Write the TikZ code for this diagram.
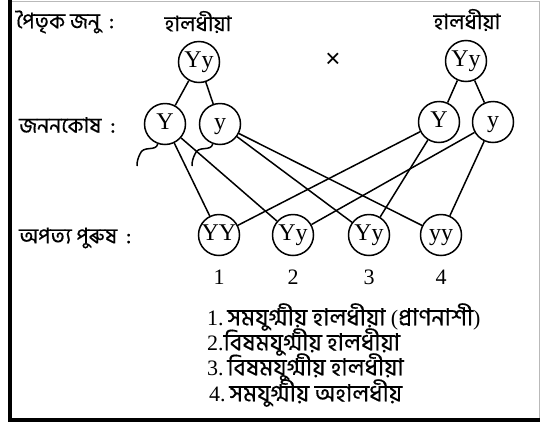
\documentclass[tikz,border=0pt]{standalone}
\usepackage{fontspec}
\setmainfont{Liberation Serif}
\newfontfamily\bn[Script=Bengali,FakeBold=0.4]{Hind Siliguri}
\newfontfamily\crossfont{Liberation Sans}
\newcommand\bnleg{\bn\fontsize{23.5}{23.5}\selectfont}
\begin{document}
\begin{tikzpicture}[x=1pt,y=-1pt,
  gene/.style={circle,draw,line width=1.5pt,minimum size=41pt,inner sep=0pt,
    text height=15pt,text depth=4pt,font=\fontsize{24}{24}\selectfont},
  link/.style={line width=1.5pt},
  lab/.style={anchor=west,inner sep=0pt,font=\bn\fontsize{21.5}{21.5}\selectfont},
  num/.style={inner sep=0pt,font=\fontsize{22}{22}\selectfont},
  legend/.style={anchor=west,inner sep=0pt,font=\fontsize{22}{22}\selectfont}]
\useasboundingbox (0,0) rectangle (540,426);
% frame
\draw[gray!55,line width=1pt] (10,1) -- (539,1) -- (539,420);
\draw[line width=3.5pt] (10,0) -- (10,420) -- (540,420);

% row labels
\node[lab] (lp) at (16,22) {পৈতৃক জনু\hspace{9pt}:};
\node[lab] (lg) at (19,125) {জননকোষ\hspace{9pt}:};
\node[lab] (lo) at (19,238) {অপত্য পুৰুষ\hspace{9pt}:};
\node[lab,anchor=center] (tl) at (198,22) {হালধীয়া};
\node[lab,anchor=center] (tr) at (467,20) {হালধীয়া};
\node[inner sep=0pt,font=\crossfont\fontsize{26}{26}\selectfont] (x) at (333,60) {×};

% parents
\node[gene] (p1) at (199,62) {Yy};
\node[gene] (p2) at (466,61) {Yy};
% gametes
\node[gene] (g1) at (165,124) {Y};
\node[gene] (g2) at (220,124) {y};
\node[gene] (g3) at (439,122) {Y};
\node[gene] (g4) at (493,122) {y};
% offspring
\node[gene] (o1) at (219,235) {YY};
\node[gene] (o2) at (293,235) {Yy};
\node[gene] (o3) at (369,235) {Yy};
\node[gene] (o4) at (441,235) {yy};
\node[num] (n1) at (219,277) {1};
\node[num] (n2) at (293,277) {2};
\node[num] (n3) at (369,277) {3};
\node[num] (n4) at (441,277) {4};

% parent to gametes
\draw[link] (p1) -- (g1);
\draw[link] (p1) -- (g2);
\draw[link] (p2) -- (g3);
\draw[link] (p2) -- (g4);
% gametes to offspring
\draw[link] (g1) -- (o1);
\draw[link] (g1) -- (o2);
\draw[link] (g2) -- (o3);
\draw[link] (g2) -- (o4);
\draw[link] (g3) -- (o1);
\draw[link] (g3) -- (o3);
\draw[link] (g4) -- (o2);
\draw[link] (g4) -- (o4);

% tails under the left gametes
\draw[link] (g1.-110) .. controls (156,152) and (143,145) .. (140,154)
  .. controls (138,158) and (137,161) .. (137,166);
\draw[link] (g2.-110) .. controls (211,152) and (198,145) .. (195,154)
  .. controls (193,158) and (192,161) .. (192,166);

% legend
\node[legend] (l1) at (207,317) {1.\,{\bnleg সমযুগ্মীয় হালধীয়া} ({\bnleg প্ৰাণনাশী})};
\node[legend] (l2) at (207,342) {2.{\bnleg বিষমযুগ্মীয় হালধীয়া}};
\node[legend] (l3) at (207,367) {3.\,{\bnleg বিষমযুগ্মীয় হালধীয়া}};
\node[legend] (l4) at (209,393) {4.\,{\bnleg সমযুগ্মীয় অহালধীয়}};
\end{tikzpicture}
\end{document}
